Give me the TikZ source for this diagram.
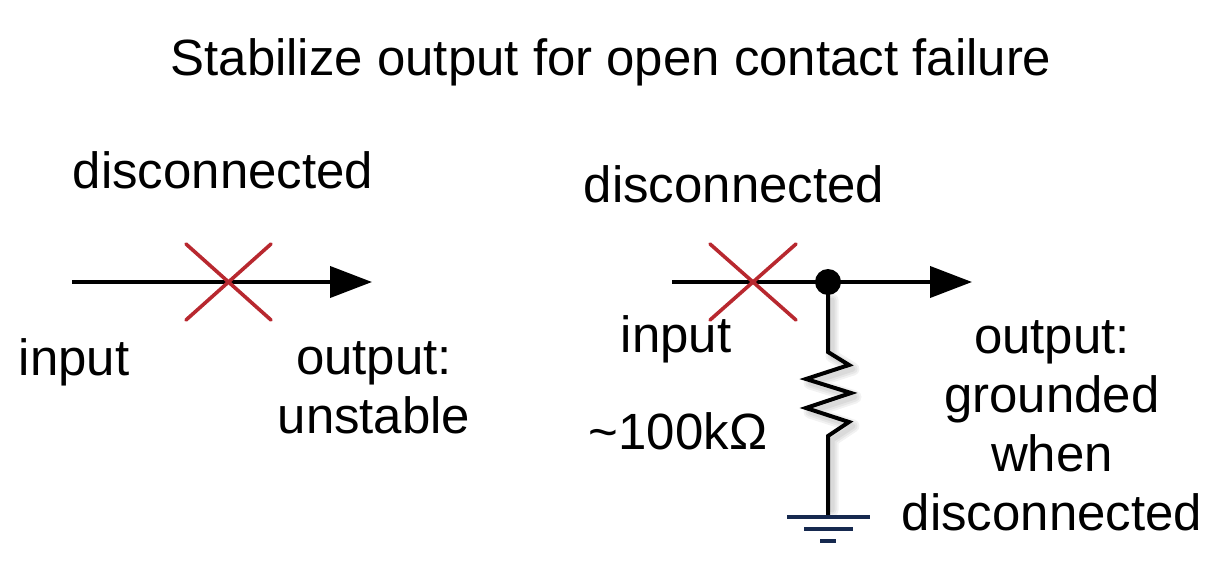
\documentclass[tikz,border=0pt]{standalone}
\usepackage{fontspec}
\setmainfont{Liberation Sans}
\usetikzlibrary{arrows.meta}

\definecolor{crossred}{HTML}{B8282F}
\definecolor{groundblue}{HTML}{16294F}

\tikzset{
  wire/.style={line width=4*0.02cm, line join=miter},
  flow/.style={wire, -{Triangle[length=42*0.02cm, width=31*0.02cm]}},
  crossmark/.style={crossred, line width=3.6*0.02cm, line cap=round},
  groundbar/.style={groundblue, line width=3.6*0.02cm},
  softshadow/.style={black, opacity=0.05, line width=#1*0.02cm, line cap=round, line join=round},
  label/.style={anchor=base, inner sep=0pt, align=center,
    font=\fontsize{29pt}{33.5pt}\selectfont},
}

\begin{document}
\begin{tikzpicture}[x=0.02cm, y=-0.02cm]
  \useasboundingbox (0,0) rectangle (1223,584);

  % left: open contact only
  \coordinate (inA) at (72,282);
  \coordinate (outA) at (372,282);
  \draw[flow] (inA) -- (outA);
  \draw[crossmark] (186,244) -- (271,320);
  \draw[crossmark] (271,244) -- (186,320);

  % right: pull-down to ground
  \coordinate (inB) at (672,282);
  \coordinate (outB) at (972,282);
  \coordinate (junction) at (828,282);
  \coordinate (resTop) at (828,352);
  \coordinate (resBot) at (828,436);
  \coordinate (gnd) at (828,517);

  % soft shadow under the vertical wire and resistor
  \foreach \w in {5,9,13}
    \draw[softshadow=\w] (832,300) -- (832,356) -- (853,369) -- (810,383) -- (855,397)
      -- (810,412) -- (853,426) -- (832,440) -- (832,510);

  \draw[flow] (inB) -- (outB);
  \draw[crossmark] (710,244) -- (796,320);
  \draw[crossmark] (796,244) -- (710,320);
  \draw[wire] (junction) -- (resTop) -- (849,365) -- (806,379) -- (851,393)
    -- (806,408) -- (849,422) -- (resBot) -- (gnd);
  \fill (junction) circle (13);

  \draw[groundbar] (787,517) -- (870,517);
  \draw[groundbar] (804,529) -- (853,529);
  \draw[groundbar] (820,541) -- (836,541);

  \node[label] (title) at (611,76) {Stabilize output for open contact failure};

  \node[label] (openA) at (223,189) {disconnected};
  \node[label] (inputA) at (74,375) {input};
  \node[label] (outputA) at (374,433) {output:\\unstable};

  \node[label] (openB) at (734,203) {disconnected};
  \node[label] (inputB) at (676,352) {input};
  \node[label] (resval) at (678,449) {\textasciitilde100kΩ};
  \node[label] (outputB) at (1052,530) {output:\\grounded\\when\\disconnected};
\end{tikzpicture}
\end{document}
